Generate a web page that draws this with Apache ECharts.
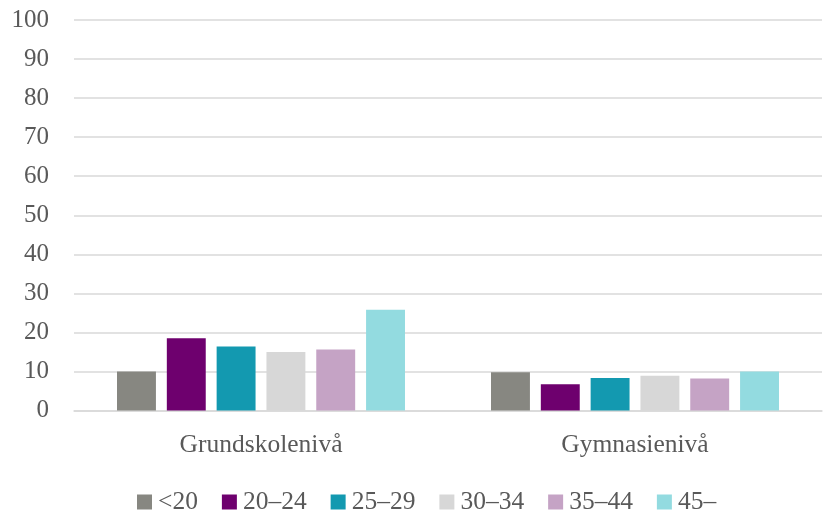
<!DOCTYPE html>
<html>
<head>
<meta charset="utf-8">
<script src="https://cdn.jsdelivr.net/npm/echarts@6/dist/echarts.min.js"></script>
<style>
html,body{margin:0;padding:0;background:#fff;}
#chart{width:823px;height:510px;}
</style>
</head>
<body>
<div id="chart"></div>
<script>
var categories = ['Grundskolenivå', 'Gymnasienivå'];
var seriesNames = ['<20', '20–24', '25–29', '30–34', '35–44', '45–'];
var s_lt20 = [10.0, 9.8];
var s_20_24 = [18.5, 6.7];
var s_25_29 = [16.4, 8.3];
var s_30_34 = [15.0, 8.9];
var s_35_44 = [15.6, 8.2];
var s_45 = [25.8, 10.0];
var yTicks = [0, 10, 20, 30, 40, 50, 60, 70, 80, 90, 100];

var seriesValues = [s_lt20, s_20_24, s_25_29, s_30_34, s_35_44, s_45];
var colors = ['#878781', '#6e006e', '#1399b0', '#d7d7d7', '#c5a3c5', '#93dbe0'];
var FONT = 'Liberation Serif';

var chart = echarts.init(document.getElementById('chart'));
chart.setOption({
  animation: false,
  color: colors,
  textStyle: { fontFamily: FONT },
  grid: { left: 74, right: 1, top: 20, bottom: 99.5, containLabel: false },
  legend: {
    top: 489,
    left: 137,
    padding: 0,
    itemWidth: 15,
    itemHeight: 15,
    itemGap: 24,
    icon: 'rect',
    textStyle: { fontFamily: FONT, fontSize: 25.5, color: '#595959', padding: [0, 0, 0, 1] },
    data: seriesNames
  },
  xAxis: {
    type: 'category',
    data: categories,
    axisLine: { lineStyle: { color: '#d9d9d9', width: 1.5 } },
    axisTick: { show: false },
    axisLabel: { fontFamily: FONT, fontSize: 25.5, color: '#595959', margin: 22 }
  },
  yAxis: {
    type: 'value',
    min: yTicks[0],
    max: yTicks[yTicks.length - 1],
    interval: 10,
    axisLine: { show: false },
    axisTick: { show: false },
    splitLine: { lineStyle: { color: '#d9d9d9', width: 1.5 } },
    axisLabel: { fontFamily: FONT, fontSize: 25, color: '#595959', margin: 25 }
  },
  series: seriesNames.map(function (n, i) {
    return {
      name: n,
      type: 'bar',
      data: seriesValues[i],
      barGap: '28%',
      barCategoryGap: '23%'
    };
  })
});
</script>
</body>
</html>
